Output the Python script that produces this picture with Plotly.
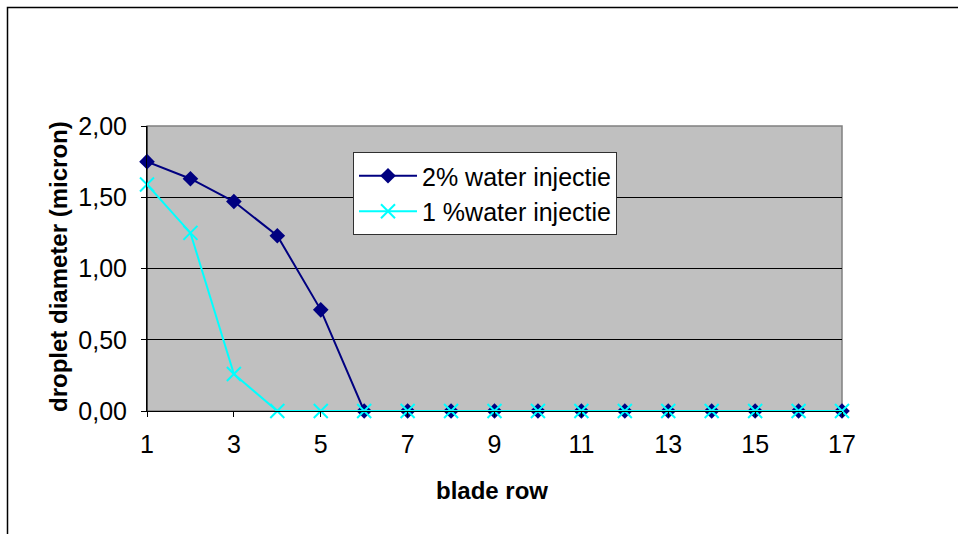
import plotly.graph_objects as go

blade_row = list(range(1, 18))
water_2pct = [1.75, 1.63, 1.47, 1.23, 0.71, 0, 0, 0, 0, 0, 0, 0, 0, 0, 0, 0, 0]
water_1pct = [1.59, 1.25, 0.26, 0, 0, 0, 0, 0, 0, 0, 0, 0, 0, 0, 0, 0, 0]
x_ticks = [1, 3, 5, 7, 9, 11, 13, 15, 17]
y_ticks = [0, 0.5, 1.0, 1.5, 2.0]

FONT = "Liberation Sans, Arial, sans-serif"
L, R, T, B = 147, 116, 126, 123
W, H = 958, 534
PW, PH = W - L - R, H - T - B

def px(x):
    return (x - L) / PW

def py(y):
    return (H - B - y) / PH

fig = go.Figure()
fig.add_trace(go.Scatter(
    x=blade_row, y=water_2pct, name="2% water injectie", mode="lines+markers",
    line=dict(color="#000080", width=2), cliponaxis=False,
    marker=dict(symbol="diamond", size=12, color="#000080"),
))
fig.add_trace(go.Scatter(
    x=blade_row, y=water_1pct, name="1 %water injectie", mode="lines+markers",
    line=dict(color="#00FFFF", width=2), cliponaxis=False,
    marker=dict(symbol="x-thin", size=14, color="#00FFFF",
                line=dict(color="#00FFFF", width=2)),
))

fig.update_layout(
    width=W, height=H,
    margin=dict(l=L, r=R, t=T, b=B, autoexpand=False),
    paper_bgcolor="white", plot_bgcolor="#C0C0C0",
    separators=", ",
    font=dict(family=FONT, size=25, color="black"),
    showlegend=True,
    legend=dict(
        x=px(353), y=py(152), xanchor="left", yanchor="top",
        bgcolor="white", bordercolor="#303030", borderwidth=1,
        font=dict(family=FONT, size=25, color="black"),
        itemwidth=58, traceorder="normal",
    ),
    xaxis=dict(
        range=[1, 17], tickmode="array", tickvals=x_ticks,
        ticktext=[str(v) for v in x_ticks],
        showgrid=False, zeroline=False,
        showline=True, linecolor="black", linewidth=1,
        ticks="outside", ticklen=5, tickcolor="black", tickwidth=1,
        tickfont=dict(family=FONT, size=25, color="black"),
        ticklabelstandoff=6,
        fixedrange=True,
    ),
    yaxis=dict(
        range=[0, 2], tickmode="array", tickvals=y_ticks,
        tickformat=".2f",
        showgrid=True, gridcolor="black", gridwidth=1,
        zeroline=False,
        showline=True, linecolor="black", linewidth=1,
        ticks="outside", ticklen=5, tickcolor="black", tickwidth=1,
        tickfont=dict(family=FONT, size=25, color="black"),
        ticklabelstandoff=9,
        fixedrange=True,
    ),
    shapes=[
        dict(type="rect", xref="paper", yref="paper", x0=0, x1=1, y0=0, y1=1,
             line=dict(color="#808080", width=1.5), layer="between"),
        dict(type="line", xref="paper", yref="paper", x0=0, x1=0, y0=0, y1=1,
             line=dict(color="black", width=1), layer="between"),
        dict(type="rect", xref="paper", yref="paper",
             x0=px(7.5), x1=px(W + 10), y0=py(H + 10), y1=py(7.5),
             line=dict(color="black", width=1.5), layer="below"),
    ],
    annotations=[
        dict(text="<b>blade row</b>", xref="paper", yref="paper",
             x=px(492), y=py(490), showarrow=False,
             font=dict(family=FONT, size=24, color="black"),
             xanchor="center", yanchor="middle"),
        dict(text="<b>droplet diameter (micron)</b>", xref="paper", yref="paper",
             x=px(58), y=py(267), showarrow=False, textangle=-90,
             font=dict(family=FONT, size=24, color="black"),
             xanchor="center", yanchor="middle"),
    ],
)

fig.write_html("out.html")
